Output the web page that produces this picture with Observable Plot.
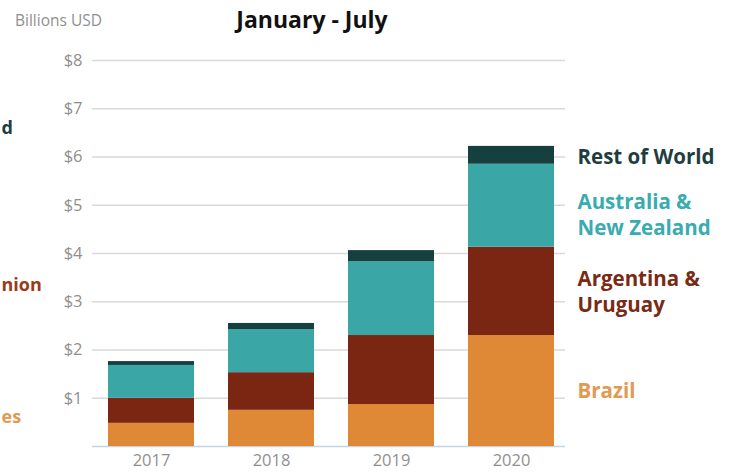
<!DOCTYPE html>
<html><head><meta charset="utf-8">
<script src="https://cdn.jsdelivr.net/npm/d3@7"></script>
<script src="https://cdn.jsdelivr.net/npm/@observablehq/plot@0.6"></script>
<style>
body{margin:0;background:#fff;}
#wrap{position:relative;width:735px;height:473px;overflow:hidden;}
</style></head>
<body><div id="wrap"></div>
<script>
const years = ["2017", "2018", "2019", "2020"];
const regions = ["Brazil", "Argentina & Uruguay", "Australia & New Zealand", "Rest of World"];
const brazil = [0.48, 0.75, 0.87, 2.30];
const argentina = [0.52, 0.78, 1.43, 1.83];
const anz = [0.68, 0.89, 1.53, 1.72];
const restOfWorld = [0.08, 0.13, 0.23, 0.37];
const barColors = ["#df8836", "#7b2613", "#3aa6a6", "#163f3f"];
const labelColors = ["#e29a52", "#7a2a14", "#38acae", "#1f3d40"];
const labelText = ["Brazil", "Argentina &\nUruguay", "Australia &\nNew Zealand", "Rest of World"];
const labelDy = [-1, -1, 8, 0];
const yTicks = [1, 2, 3, 4, 5, 6, 7, 8];
const title = "January - July";
const unitLabel = "Billions USD";
// fragments of the neighbouring chart's labels, at the left edge
const fragText = ["d", "nion", "es"];
const fragY = [6.6, 3.35, 0.6];
const fragColors = ["#1f3d40", "#9a3a18", "#e29a52"];

const series = [brazil, argentina, anz, restOfWorld];
const data = [];
years.forEach((yr, i) => regions.forEach((r, k) => data.push({year: yr, region: r, value: series[k][i]})));

// label positions: midpoints of the 2020 stack segments
const last = years.length - 1;
let acc = 0;
const labels = regions.map((r, k) => {
  const v = series[k][last];
  const mid = acc + v / 2; acc += v;
  return {region: r, text: labelText[k], y: mid, color: labelColors[k], dy: labelDy[k]};
});
const frags = fragText.map((t, i) => ({text: t, y: fragY[i], color: fragColors[i]}));

const font = "'Open Sans', sans-serif";
const chart = Plot.plot({
  width: 735, height: 473,
  marginLeft: 92, marginRight: 165, marginTop: 60, marginBottom: 27,
  style: {fontFamily: font, background: "#fff", overflow: "visible"},
  x: {domain: years, paddingInner: 0.283, paddingOuter: 0.133, label: null, tickSize: 0, tickPadding: 8},
  y: {domain: [0, 8], label: null, ticks: yTicks, tickSize: 0, tickPadding: 10, tickFormat: d => "$" + d},
  color: {domain: regions, range: barColors},
  marks: [
    Plot.ruleY(yTicks, {stroke: "#d9d9d9", strokeWidth: 1.6, insetRight: 5}),
    Plot.ruleY([0], {stroke: "#c4d6e6", strokeWidth: 1.6, insetRight: 5}),
    Plot.barY(data, {x: "year", y: "value", fill: "region", order: regions}),
    ...labels.map(l => Plot.text([l], {
      x: () => years[last], y: "y", text: "text", dx: 66, dy: l.dy,
      textAnchor: "start", fill: l.color, fontWeight: 700, fontSize: 20.5, lineHeight: 1.27
    })),
    ...frags.map(f => Plot.text([f], {
      frameAnchor: "left", y: "y", text: "text", dx: -91,
      textAnchor: "start", fill: f.color, fontWeight: 700, fontSize: 18
    }))
  ]
});
const svg = d3.select(chart);
svg.selectAll("g[aria-label='y-axis tick label'], g[aria-label='x-axis tick label']")
  .attr("fill", "#8f8f8f").style("font-size", "16.5px");
svg.append("text").text(title)
  .attr("x", 312).attr("y", 28).attr("text-anchor", "middle")
  .attr("font-family", font).attr("font-weight", 700).attr("font-size", 23).attr("fill", "#111");
svg.append("text").text(unitLabel)
  .attr("x", 15).attr("y", 26).attr("text-anchor", "start").attr("font-family", font)
  .attr("font-size", 15.5).attr("fill", "#8f8f8f");
document.getElementById("wrap").appendChild(chart);
</script>
</body></html>
